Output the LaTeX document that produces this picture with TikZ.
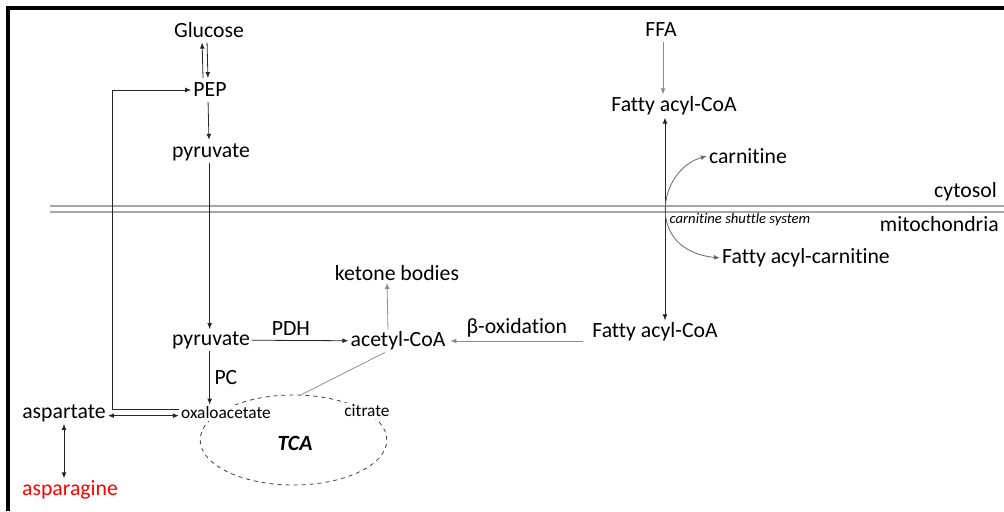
\documentclass[tikz,border=0pt]{standalone}
\usepackage{fontspec}
\setmainfont{Carlito}[Ligatures=NoCommon]
\usepackage{xcolor}
\usetikzlibrary{shapes.geometric, arrows.meta, positioning, calc}

\begin{document}
\begin{tikzpicture}[
    x=0.75pt, y=-0.75pt,
    font=\fontsize{16.3}{19}\selectfont,
    >={Latex[length=4.5pt,width=3.6pt]},
    % Styles
    metab/.style={
      inner sep=1.5pt,
      align=center
    },
    smallmetab/.style={
      font=\fontsize{13}{15}\selectfont,
      fill=white,
      inner sep=1.5pt
    },
    arrow/.style={
      ->,
      line width=0.6pt,
      draw=black!85
    },
    greyarrow/.style={
      ->,
      line width=0.6pt,
      draw=black!45
    },
    twoway/.style={
      <->,
      line width=0.6pt,
      draw=black!85
    },
    membrane/.style={
      line width=0.9pt,
      draw=black!35
    },
    cycle/.style={
      draw=black!75,
      dashed,
      ellipse,
      line width=0.6pt,
      minimum width=140pt,
      minimum height=67.5pt
    }
  ]

    % Frame
    \useasboundingbox (0,0) rectangle (1004,511);
    \draw [line width=2.4pt] (8,511) -- (8,8) -- (1004,8);

    % Membrane
    \draw [membrane] (50,206) -- (1004,206);
    \draw [membrane] (50,212) -- (1004,212);
    \node (cyto) [metab, anchor=east] at (999,192) {cytosol};
    \node (mito) [metab, anchor=east] at (1001,224) {mitochondria};
    \node (shuttle) [metab, font=\fontsize{11}{12}\selectfont\itshape] at (740,220) {carnitine shuttle system};

    % TCA cycle
    \node (tcacycle) [cycle] at (293.5,440) {};
    \node (tca) [metab] at (295,443) {\textbf{\textit{TCA}}};

    % Glycolysis side
    \node (glc) [metab] at (209,30) {Glucose};
    \node (pep) [metab] at (210,90) {PEP};
    \node (pyr1) [metab] at (211,152) {pyruvate};
    \node (pyr2) [metab] at (211,340) {pyruvate};
    \node (acoa) [metab] at (398,341) {acetyl-CoA};
    \node (ket) [metab] at (397,273) {ketone bodies};
    \node (asp) [metab] at (64,413) {aspartate};
    \node (asn) [metab, text=red] at (70,490) {asparagine};
    \node (oaa) [smallmetab] at (226,413) {oxaloacetate};
    \node (cit) [smallmetab] at (367,411) {citrate};

    % Fatty acid side
    \node (ffa) [metab] at (661,30) {FFA};
    \node (fac1) [metab] at (674,106) {Fatty acyl-CoA};
    \node (carn) [metab] at (748,156) {carnitine};
    \node (facarn) [metab] at (806,258) {Fatty acyl-carnitine};
    \node (fac2) [metab] at (655,332) {Fatty acyl-CoA};

    \coordinate (bend) at (112,90);

    % Connections
    \draw [arrow, shorten >=2pt, shorten <=2pt] ([xshift=-1.5pt]glc.south) -- ([xshift=-1.5pt]pep.north);
    \draw [arrow, shorten >=2pt, shorten <=2pt] ([xshift=-5.2pt]pep.north) -- ([xshift=-5.2pt]glc.south);
    \draw [arrow, shorten >=1pt, shorten <=2pt] ([xshift=-1.5pt]pep.south) -- ([xshift=-1.5pt]pyr1.north);
    \draw [arrow] ([xshift=-1pt]pyr1.south) -- ([xshift=-1pt]pyr2.north);
    \draw [arrow] ([xshift=-1pt]pyr2.south) -- ([xshift=-1pt]pyr2.south |- oaa.north) node [midway, right] {PC};
    \draw [arrow] (pyr2) -- (acoa) node [midway, above, xshift=-7pt] {PDH};
    \draw [greyarrow] ([xshift=-7.5pt]acoa.north) -- ([xshift=-7.5pt]ket.south);
    \draw [line width=0.5pt, draw=black!50] ([xshift=-10pt]acoa.south) -- ([xshift=6pt]tcacycle.north);
    \draw [greyarrow] ([xshift=-5pt]fac2.west |- acoa) -- ([xshift=2pt]acoa.east)
      node [midway, above, yshift=-1pt] {β-oxidation};
    \draw [arrow] ([yshift=3pt]oaa.west) -| (bend) -- (pep.west);
    \draw [twoway] ([yshift=-2pt]asp.east) -- ([yshift=-2pt]oaa.west);
    \draw [twoway] (asp.south) -- (asp.south |- asn.north);

    \draw [greyarrow, shorten <=2pt] ([xshift=1.5pt]ffa.south) -- ([xshift=1.5pt]ffa.south |- fac1.north);
    \draw [twoway] ([xshift=-6.75pt]fac1.south) -- ([xshift=-6.75pt]fac1.south |- fac2.north);
    \draw [twoway, draw=black!60] (carn.west) .. controls (658,170) and (644,250) .. (facarn.west);

  \end{tikzpicture}
\end{document}
